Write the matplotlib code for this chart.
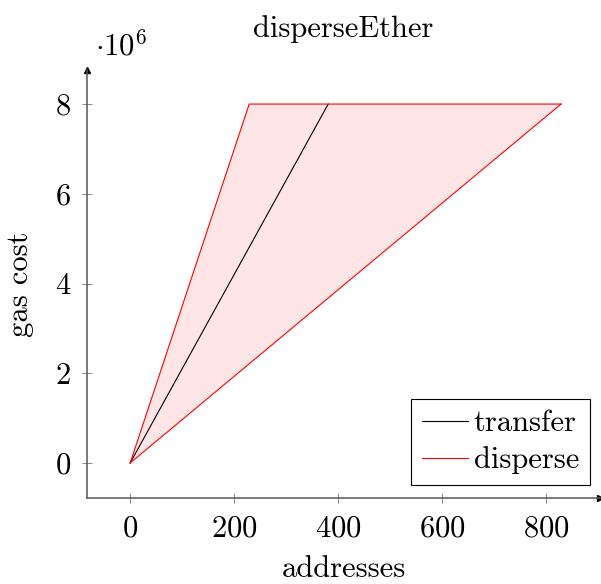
import numpy as np
import matplotlib.pyplot as plt

plt.rcParams['font.family'] = 'cmr10'
plt.rcParams['mathtext.fontset'] = 'cm'
plt.rcParams['axes.formatter.use_mathtext'] = True

# data (gas cost in units of 1e6)
transfer_x = [0, 381]
transfer_y = [0, 8.0]
# disperse range: upper and lower edges
disperse_upper_x = [0, 229, 829]
disperse_upper_y = [0, 8.0, 8.0]
disperse_lower_x = [0, 829]
disperse_lower_y = [0, 8.0]

fs = 22

fig = plt.figure(figsize=(6.01, 5.84), dpi=100)
ax = fig.add_axes([0.1448, 0.1473, 0.8536, 0.7329])

poly_x = disperse_upper_x + disperse_lower_x[::-1]
poly_y = disperse_upper_y + disperse_lower_y[::-1]
ax.fill(poly_x, poly_y, color='red', alpha=0.1, lw=0)
ax.plot(transfer_x, transfer_y, color='black', lw=0.8, label='transfer')
ax.plot(disperse_upper_x, disperse_upper_y, color='red', lw=0.8, label='disperse')
ax.plot(disperse_lower_x, disperse_lower_y, color='red', lw=0.8)

ax.set_xlim(-83, 904)
ax.set_ylim(-0.78, 8.76)
ax.set_xticks([0, 200, 400, 600, 800])
ax.set_yticks([0, 2, 4, 6, 8])

for s in ['top', 'right']:
    ax.spines[s].set_visible(False)
for s in ['left', 'bottom']:
    ax.spines[s].set_linewidth(1.1)
    ax.spines[s].set_color('#555555')
ax.tick_params(direction='inout', length=7, width=0.6, color='#777777', labelsize=fs)
ax.tick_params(axis='y', pad=8)
ax.tick_params(axis='x', pad=9)
ax.plot(1, 0, '>k', ms=5, transform=ax.transAxes, clip_on=False)
ax.plot(0, 1, '^k', ms=5, transform=ax.transAxes, clip_on=False)

ax.set_xlabel('addresses', fontsize=fs, labelpad=9)
ax.set_ylabel('gas cost', fontsize=fs, labelpad=15)
ax.set_title('disperseEther', fontsize=fs, pad=24)
fig.text(0.158, 0.922, r'$\cdot 10^{6}$', fontsize=fs, ha='left', va='center')

leg = ax.legend(loc='lower right', bbox_to_anchor=(0.98, 0.03), fontsize=fs,
                frameon=True, fancybox=False, edgecolor='black', framealpha=1,
                handlelength=1.5, handletextpad=0.2, borderpad=0.35,
                labelspacing=0.3, borderaxespad=0)
leg.get_frame().set_linewidth(0.8)

fig.savefig('out.png', dpi=100)
